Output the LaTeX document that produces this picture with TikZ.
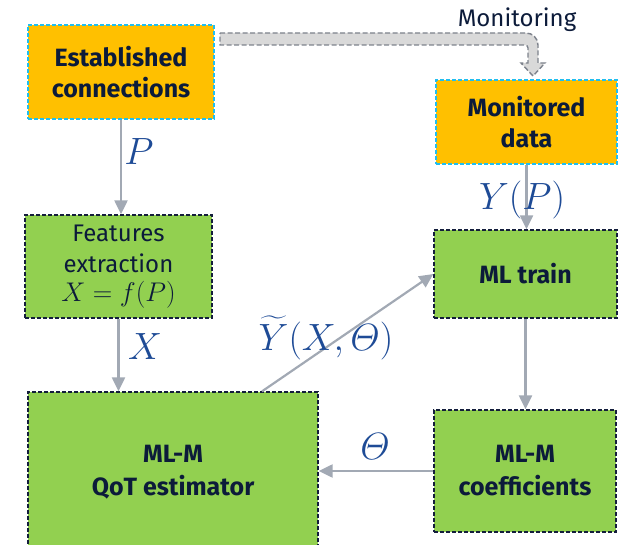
\RequirePackage{fix-cm}
\documentclass[tikz,border=0pt]{standalone}
\usepackage{amsmath}
\usepackage{fontspec}
\setmainfont{Fira Sans}
\usetikzlibrary{arrows.meta,calc}

\definecolor{boxorange}{RGB}{255,192,0}
\definecolor{boxgreen}{RGB}{146,208,80}
\definecolor{edgecyan}{RGB}{32,190,240}
\definecolor{edgenavy}{RGB}{20,30,60}
\definecolor{inkblue}{RGB}{30,75,150}
\definecolor{labelnavy}{RGB}{12,27,58}
\definecolor{linkgray}{RGB}{162,169,180}
\definecolor{bandfill}{RGB}{217,217,217}
\definecolor{bandedge}{RGB}{125,130,140}

\tikzset{
  boxbase/.style={rectangle, inner sep=2pt, align=center, line width=1.3pt,
    dash pattern=on 4pt off 2pt, text=labelnavy,
    font=\fontsize{24}{31}\selectfont},
  srcbox/.style={boxbase, fill=boxorange, draw=edgecyan, font=\fontsize{25}{31}\selectfont\bfseries},
  procbox/.style={boxbase, fill=boxgreen, draw=edgenavy},
  boldproc/.style={procbox, font=\fontsize{25}{33}\selectfont\bfseries},
  link/.style={draw=linkgray, line width=2.2pt,
    -{Triangle[length=14pt,width=13pt]}},
  mathlbl/.style={text=inkblue, font=\fontsize{38}{42}\selectfont, inner sep=0pt},
}

\begin{document}
\begin{tikzpicture}[x=1pt,y=-1pt]
\useasboundingbox (0,0) rectangle (621,545);

% boxes
\node[srcbox, minimum width=186pt, minimum height=94pt] (est) at (121,72)
  {Established\\connections};
\node[srcbox, minimum width=181pt, minimum height=84pt] (mon) at (526.5,122)
  {Monitored\\data};
\node[procbox, minimum width=187pt, minimum height=103pt] (feat) at (118.5,266.5)
  {Features\\extraction\\[-2pt]{\color{labelnavy}\fontsize{27}{30}\selectfont$X=f(P)$}};
\node[boldproc, minimum width=183pt, minimum height=88pt] (train) at (525.5,274)
  {ML train};
\node[boldproc, minimum width=290pt, minimum height=160pt] (qot) at (173,472)
  {ML-M\\QoT estimator};
\node[boldproc, minimum width=182pt, minimum height=122pt] (coef) at (525,471)
  {ML-M\\coefficients};

% monitoring band arrow
\filldraw[fill=bandfill, draw=bandedge, line width=1.4pt, dash pattern=on 5pt off 2.5pt]
  (220,33) -- (526,33) arc[start angle=-90, end angle=0, radius=12]
  -- (538,63) -- (545,63) -- (533,76) -- (521,63) -- (528,63) -- (528,48)
  arc[start angle=0, end angle=-90, radius=3] -- (220,45) -- cycle;
\node[text=labelnavy, font=\fontsize{24}{28}\selectfont] (montxt) at (517,20) {Monitoring};

% connectors
\draw[link] (est.south) -- (est.south |- feat.north);
\draw[link] (feat.south) -- (feat.south |- qot.north);
\draw[link] (mon.south) -- (mon.south |- train.north);
\draw[link] (train.south) -- (train.south |- coef.north);
\draw[link] (coef.west) -- (coef.west -| qot.east);
\draw[link] ([xshift=89pt]qot.north) -- (train.west);

% labels
\node[mathlbl] (lp) at (139,152) {$P$};
\node[mathlbl] (lx) at (145,347) {$X$};
\node[mathlbl] (lyp) at (522,200) {$Y(P)$};
\node[mathlbl] (lth) at (375,447) {$\varTheta$};
\node[mathlbl] (ly) at (326,338) {$\widetilde{Y}(X,\varTheta)$};
\end{tikzpicture}
\end{document}
